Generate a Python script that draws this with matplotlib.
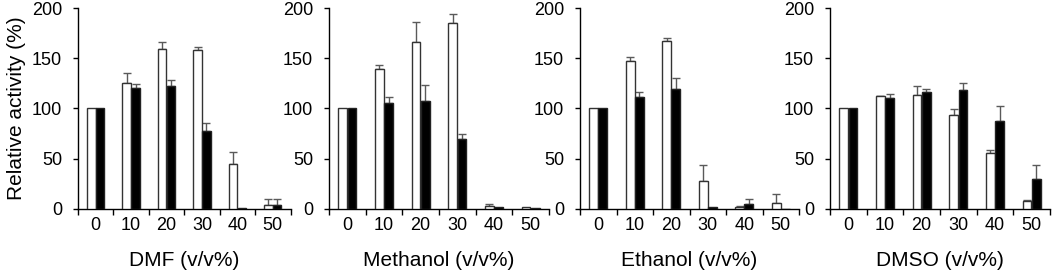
import matplotlib
matplotlib.use("Agg")
import matplotlib.pyplot as plt
import numpy as np

plt.rcParams['font.family'] = ['Liberation Sans', 'DejaVu Sans']

concentrations = ["0", "10", "20", "30", "40", "50"]
solvents = ["DMF", "Methanol", "Ethanol", "DMSO"]

dmf_white = [100, 125, 159, 158.7, 44.3, 3.7]
dmf_white_err = [0, 10.7, 7, 3, 12.7, 5.6]
dmf_black = [100, 120, 122.7, 77.3, 0.5, 4]
dmf_black_err = [0, 4, 5.3, 8.7, 0, 5.7]

meoh_white = [100, 139.3, 166.7, 185.3, 2.3, 1.3]
meoh_white_err = [0, 3.7, 19.3, 9.4, 2, 0]
meoh_black = [100, 105, 107.7, 69.7, 1.7, 0.3]
meoh_black_err = [0, 6.3, 15.6, 5.3, 0, 0]

etoh_white = [100, 147.3, 167.7, 28, 1.3, 5.7]
etoh_white_err = [0, 4, 2.3, 15.3, 1.7, 9.3]
etoh_black = [100, 111.7, 119.7, 2, 4.3, 0]
etoh_black_err = [0, 5, 10.6, 0, 5.7, 0]

dmso_white = [100, 112, 113.3, 94, 56, 7.3]
dmso_white_err = [0, 0.7, 9, 5.7, 3, 1.4]
dmso_black = [100, 110, 116, 118.3, 87.7, 29.7]
dmso_black_err = [0, 4, 3.3, 6.7, 15, 14.3]

panels = [
    (dmf_white, dmf_white_err, dmf_black, dmf_black_err),
    (meoh_white, meoh_white_err, meoh_black, meoh_black_err),
    (etoh_white, etoh_white_err, etoh_black, etoh_black_err),
    (dmso_white, dmso_white_err, dmso_black, dmso_black_err),
]

W, H = 1052, 280
fig = plt.figure(figsize=(W / 100, H / 100), dpi=100)

# pixel extents of each axes (left, right)
extents = [(78, 290.5), (329, 549), (580, 799), (830, 1050)]
y0_px, y200_px = 208.7, 8.3
bottom = (H - y0_px) / H
height = (y0_px - y200_px) / H

x = np.arange(len(concentrations))
bw = 0.24
off = 0.125
ecol = '#5a5a5a'

for i, ((wv, we, bv, be), (l, r)) in enumerate(zip(panels, extents)):
    ax = fig.add_axes([l / W, bottom, (r - l) / W, height])
    ax.bar(x - off, wv, width=bw, color='white', edgecolor='#333333', linewidth=1.0, zorder=3)
    ax.bar(x + off, bv, width=bw, color='black', edgecolor='#222222', linewidth=1.0, zorder=3)
    for xs, vals, errs in ((x - off, wv, we), (x + off, bv, be)):
        m = np.array(errs) > 0
        if m.any():
            ax.errorbar(np.array(xs)[m], np.array(vals)[m],
                        yerr=[np.zeros(m.sum()), np.array(errs)[m]],
                        fmt='none', ecolor=ecol, elinewidth=1.0, capsize=3.2,
                        capthick=1.0, zorder=2)
    ax.set_xlim(-0.5, len(concentrations) - 0.5)
    ax.set_ylim(0, 200)
    ax.set_yticks([0, 50, 100, 150, 200])
    ax.set_xticks(x)
    ax.set_xticklabels(concentrations)
    ax.set_xticks(np.arange(-0.5, len(concentrations)), minor=True)
    ax.tick_params(axis='x', which='major', length=0, pad=6, labelsize=13)
    ax.tick_params(axis='x', which='minor', length=4, width=1, direction='out', color='black')
    ax.tick_params(axis='y', length=3.5, width=1, direction='out', labelsize=13, pad=8, color='black')
    for s in ('top', 'right'):
        ax.spines[s].set_visible(False)
    for s in ('left', 'bottom'):
        ax.spines[s].set_linewidth(1.0)
        ax.spines[s].set_color('black')
    ax.set_xlabel(f"{solvents[i]} (v/v%)", fontsize=15, labelpad=12)
    if i == 0:
        ax.set_ylabel("Relative activity (%)", fontsize=15, labelpad=4)

fig.savefig("out.png", dpi=100)
